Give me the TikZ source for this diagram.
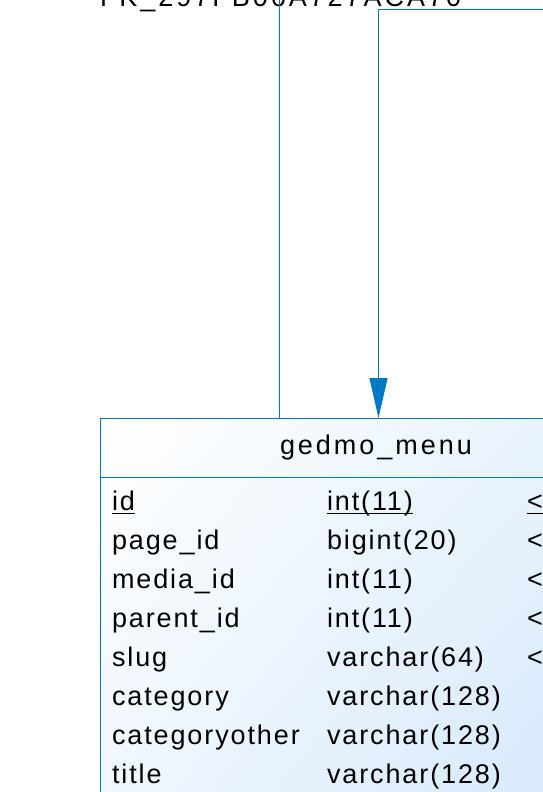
\documentclass[tikz,border=0pt]{standalone}
\usepackage{fontspec}
\setmainfont{Liberation Sans}[LetterSpace=7]
\newfontfamily\widefont{Liberation Sans}[LetterSpace=11]
\usetikzlibrary{arrows.meta,shadings}
\definecolor{erblue}{RGB}{0,122,196}
\definecolor{gradA}{RGB}{226,239,252}
\definecolor{gradB}{RGB}{200,225,250}
\definecolor{gradC}{RGB}{236,244,253}
\begin{document}
\begin{tikzpicture}[x=1pt,y=-1pt,
  every node/.style={inner sep=0pt,outer sep=0pt},
  txt/.style={font=\fontsize{27}{27}\selectfont, anchor=base west},
  wtxt/.style={font=\widefont\fontsize{27}{27}\selectfont, anchor=base west},
  link/.style={draw=erblue, line width=1pt},
  ulin/.style={draw=black, line width=1.6pt}]
\useasboundingbox (0,0) rectangle (543,792);
\begin{scope}
\clip (0,0) rectangle (543,792);
% table
\node[draw=erblue, line width=1pt, anchor=north west, minimum width=600pt, minimum height=500pt,
  upper left=white, upper right=gradA, lower left=gradC, lower right=gradB] (menu) at (100,418) {};
\draw[erblue, line width=1pt] ([yshift=-59pt]menu.north west) -- ([yshift=-59pt]menu.north east);
\node[wtxt] (title) at (280,454) {gedmo\_menu};
% rows
\node[txt] (n1) at (112,510) {id};
\node[txt] (t1) at (327,510) {int(11)};
\node[txt] (k1) at (527,510) {<};
\draw[ulin] ([yshift=-3.5pt]n1.base west) -- ([yshift=-3.5pt]n1.base east);
\draw[ulin] ([yshift=-3.5pt]t1.base west) -- ([yshift=-3.5pt]t1.base east);
\draw[ulin] ([yshift=-3.5pt]k1.base west) -- ++(30,0);
\node[txt] (n2) at (112,549) {page\_id};
\node[txt] (t2) at (327,549) {bigint(20)};
\node[txt] (k2) at (527,549) {<};
\node[txt] (n3) at (112,588) {media\_id};
\node[txt] (t3) at (327,588) {int(11)};
\node[txt] (k3) at (527,588) {<};
\node[txt] (n4) at (112,627) {parent\_id};
\node[txt] (t4) at (327,627) {int(11)};
\node[txt] (k4) at (527,627) {<};
\node[txt] (n5) at (112,666) {slug};
\node[txt] (t5) at (327,666) {varchar(64)};
\node[txt] (k5) at (527,666) {<};
\node[txt] (n6) at (112,705) {category};
\node[txt] (t6) at (327,705) {varchar(128)};
\node[txt] (n7) at (112,744) {categoryother};
\node[txt] (t7) at (327,744) {varchar(128)};
\node[txt] (n8) at (112,783) {title};
\node[txt] (t8) at (327,783) {varchar(128)};
% reference label
\node[wtxt] (fk) at (100,7) {FK\_297FB06A727ACA70};
% connectors
\coordinate (a0) at (279.5,-5);
\coordinate (b0) at (550,10);
\coordinate (b1) at (378.5,10);
\draw[link] (a0) -- (a0 |- menu.north);
\draw[link, -{Triangle[length=40pt,width=18pt]}, erblue] (b0) -- (b1) -- (b1 |- menu.north);
\end{scope}
\end{tikzpicture}
\end{document}
